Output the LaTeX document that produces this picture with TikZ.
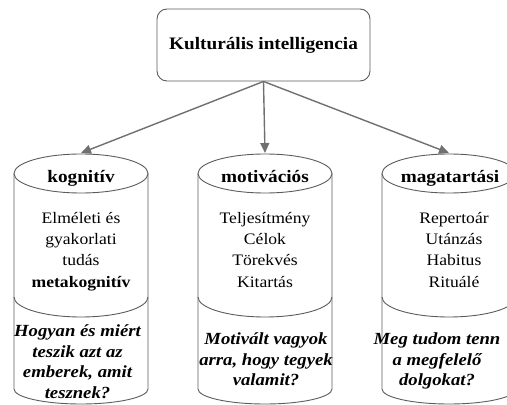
\documentclass[tikz,border=0pt]{standalone}
\usepackage{fontspec}
\setmainfont{Liberation Serif}
\usetikzlibrary{arrows.meta}
\newcommand\wide[1]{\scalebox{1.1}[1]{#1}}
\newcommand\lines[1]{\wide{\begin{tabular}[t]{@{}c@{}}#1\end{tabular}}}
\definecolor{rimgray}{HTML}{5C5C5C}
\definecolor{arrowgray}{HTML}{707070}
\tikzset{
  rim/.style={draw=rimgray, line width=0.9pt},
  arrow/.style={draw=arrowgray, line width=1.4pt, -{Triangle[length=10pt,width=9pt]}},
  head/.style={font=\fontsize{17.5}{21}\selectfont\bfseries, inner sep=0pt, anchor=base},
  facts/.style={font=\fontsize{16}{21.3}\selectfont, inner sep=0pt, anchor=base},
  question/.style={font=\fontsize{17}{20.5}\selectfont\bfseries\itshape, inner sep=0pt, anchor=base}
}

\begin{document}
\begin{tikzpicture}[x=1pt,y=1pt]
  \clip (0,0) rectangle (507,405);
  \node[rim, rounded corners=10pt, minimum width=213pt, minimum height=72pt, font=\fontsize{17.5}{21}\selectfont\bfseries] (ki) at (263.5,360) {\wide{Kulturális intelligencia}};

  % cylinders
  \foreach \cx/\nm in {81/kog, 265/mot, 449/mag}{
    \draw[rim] (\cx,231.5) ellipse[x radius=67, y radius=19.5];
    \draw[rim] (\cx-67,231.5) -- (\cx-67,16) arc[start angle=180, end angle=360, x radius=67, y radius=15] -- (\cx+67,231.5);
    \draw[rim] (\cx-67,108) arc[start angle=180, end angle=360, x radius=67, y radius=20];
    \coordinate (\nm) at (\cx,252);
  }

  \node[head] (kogh) at (81,222) {\wide{kognitív}};
  \node[head] (moth) at (265,222) {\wide{motivációs}};
  \node[head] (magh) at (450,222) {\wide{magatartási}};

  \node[facts] (kogf) at (81,181.7) {\lines{Elméleti és\\gyakorlati\\tudás\\\textbf{metakognitív}}};
  \node[facts] (motf) at (265,181.7) {\lines{Teljesítmény\\Célok\\Törekvés\\Kitartás}};
  \node[facts] (magf) at (454,181.7) {\lines{Repertoár\\Utánzás\\Habitus\\Rituálé}};

  \node[question] (kogq) at (77.5,68.3) {\lines{Hogyan és miért\\teszik azt az\\emberek, amit\\tesznek?}};
  \node[question] (motq) at (266,60) {\lines{Motivált vagyok\\arra, hogy tegyek\\valamit?}};
  \node[question] (magq) at (437,60) {\lines{Meg tudom tenn\\a megfelelő\\dolgokat?}};

  \foreach \nm in {kog,mot,mag}
    \draw[arrow] (ki.south) -- (\nm);
\end{tikzpicture}
\end{document}
